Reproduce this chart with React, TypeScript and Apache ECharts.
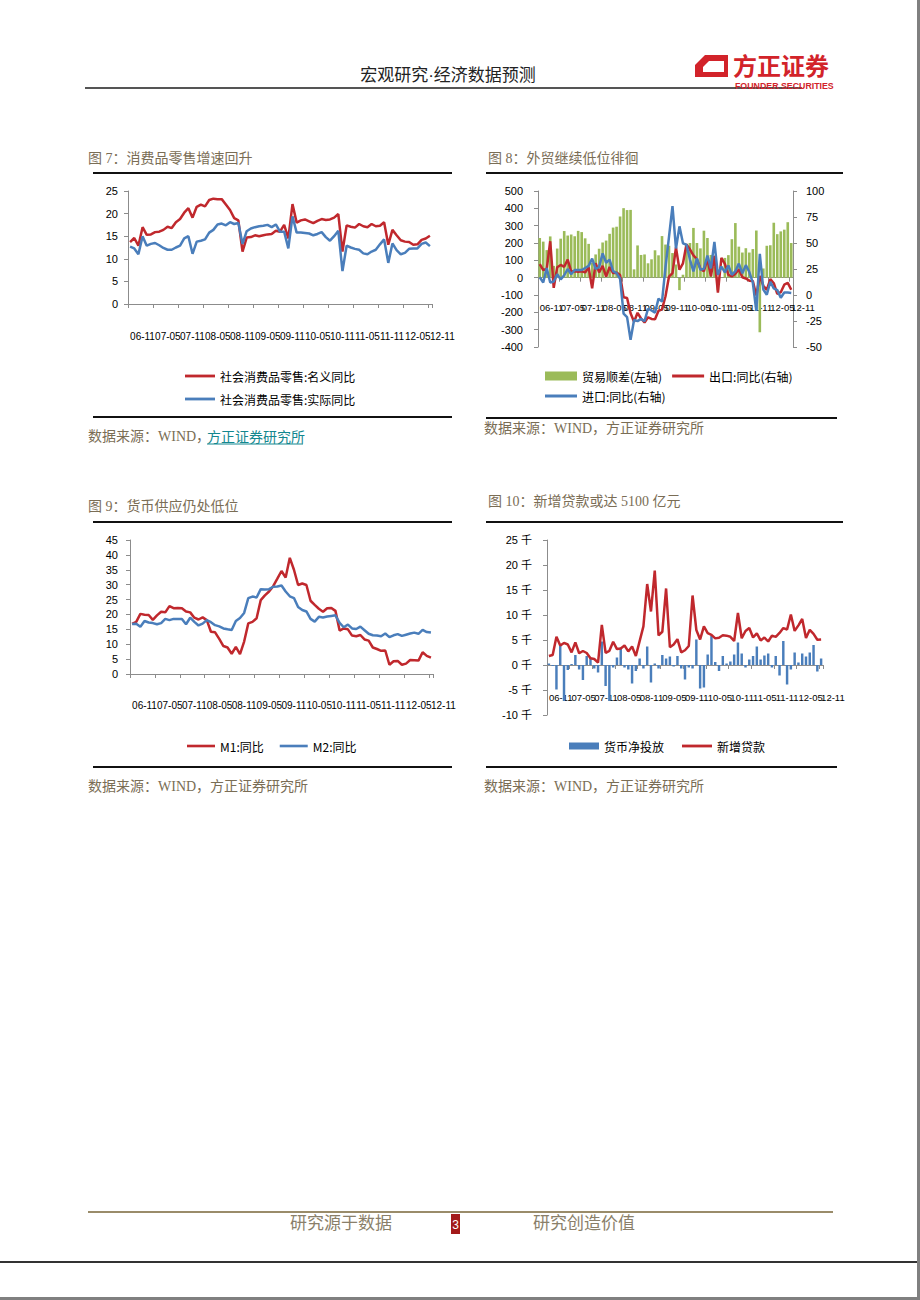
import React, { useEffect, useRef } from 'react';
import * as echarts from 'echarts';

// ---------- categories (monthly, 2006-11 .. 2012-11) ----------
const months = [
  '06-11', '06-12',
  '07-01', '07-02', '07-03', '07-04', '07-05', '07-06', '07-07', '07-08', '07-09', '07-10', '07-11', '07-12',
  '08-01', '08-02', '08-03', '08-04', '08-05', '08-06', '08-07', '08-08', '08-09', '08-10', '08-11', '08-12',
  '09-01', '09-02', '09-03', '09-04', '09-05', '09-06', '09-07', '09-08', '09-09', '09-10', '09-11', '09-12',
  '10-01', '10-02', '10-03', '10-04', '10-05', '10-06', '10-07', '10-08', '10-09', '10-10', '10-11', '10-12',
  '11-01', '11-02', '11-03', '11-04', '11-05', '11-06', '11-07', '11-08', '11-09', '11-10', '11-11', '11-12',
  '12-01', '12-02', '12-03', '12-04', '12-05', '12-06', '12-07', '12-08', '12-09', '12-10', '12-11',
];

// ---------- 图7 社会消费品零售 (%) ----------
const retailNominal = [
  13.7, 14.6, 12.9, 17.0, 15.3, 15.4, 15.9, 16.0, 16.4, 17.1,
  16.8, 18.1, 18.8, 20.2, 21.2, 19.1, 21.5, 22.0, 21.6, 23.0,
  23.3, 23.2, 23.2, 22.0, 20.8, 19.0, 18.5, 11.6, 14.7, 14.8,
  15.2, 15.0, 15.2, 15.4, 15.5, 16.2, 16.0, 17.5, 14.5, 22.1,
  18.0, 18.5, 18.7, 18.3, 17.9, 18.4, 18.8, 18.6, 18.7, 19.1,
  19.9, 11.6, 17.4, 17.1, 16.9, 17.7, 17.2, 17.0, 17.7, 17.2,
  17.3, 18.1, 13.1, 16.4, 15.2, 14.1, 13.8, 13.7, 13.1, 13.2,
  14.2, 14.5, 15.1,
];
const retailReal = [
  12.7, 12.3, 11.0, 15.0, 12.9, 13.3, 13.5, 13.0, 12.4, 12.0,
  12.0, 12.5, 12.9, 14.5, 15.0, 11.1, 13.8, 14.0, 14.3, 15.8,
  16.4, 17.6, 17.8, 17.4, 18.1, 17.7, 17.9, 13.3, 16.1, 16.7,
  17.0, 17.2, 17.3, 17.5, 17.0, 17.6, 16.0, 16.0, 12.3, 19.4,
  15.8, 15.8, 15.7, 15.6, 15.2, 15.5, 15.9, 14.8, 14.0, 15.0,
  16.2, 7.3, 12.9, 12.5, 12.2, 12.0, 11.2, 11.0, 11.6, 12.0,
  13.2, 14.3, 9.1, 13.4, 11.9, 11.0, 11.3, 12.2, 12.3, 12.3,
  13.3, 13.6, 12.8,
];

// ---------- 图8 外贸 ----------
const tradeBalance = [
  229, 208, 159, 238, 68, 168, 225, 269, 243, 249,
  239, 270, 263, 227, 195, 86, 134, 167, 203, 214,
  253, 289, 294, 353, 401, 390, 391, 48, 186, 131,
  134, 83, 106, 158, 129, 240, 191, 184, 142, 76,
  -72, 17, 195, 200, 287, 200, 169, 271, 229, 131,
  64, -73, 1, 114, 130, 222, 315, 179, 145, 170,
  145, 165, 272, -315, 53, 184, 187, 317, 251, 267,
  277, 320, 200,
];
const exportYoy = [
  29.6, 24.0, 25.0, 51.7, 6.9, 26.7, 28.9, 27.1, 34.1, 22.7,
  22.8, 22.3, 22.8, 21.7, 26.6, 6.5, 30.6, 21.8, 28.1, 17.6,
  26.9, 21.1, 21.5, 19.1, -2.2, -2.8, -17.5, -25.7, -17.1, -22.6,
  -26.4, -21.4, -23.0, -23.4, -15.2, -13.8, -1.2, 17.7, 21.0, 45.7,
  24.3, 30.5, 48.5, 43.9, 38.1, 34.4, 25.1, 22.9, 34.9, 17.9,
  37.7, 2.3, 35.8, 29.9, 19.4, 17.9, 20.4, 24.5, 17.1, 15.9,
  13.8, 13.4, -0.5, 18.4, 8.9, 4.9, 15.3, 11.3, 1.0, 2.7,
  9.9, 11.6, 5.0,
];
const importYoy = [
  17, 12, 26, 12, 13, 20, 15, 19, 25, 20,
  24, 24, 24, 26, 28, 35, 25, 27, 40, 31,
  34, 23, 21, 15.6, -17.9, -21.3, -43.1, -24.1, -25.1, -23.0,
  -25.2, -13.2, -14.9, -17.0, -3.5, -6.4, 26.7, 55.9, 85.5, 44.7,
  66.0, 49.7, 48.3, 34.1, 22.7, 35.2, 24.1, 25.3, 38.0, 25.6,
  51.0, 19.4, 27.3, 21.8, 28.4, 19.3, 22.9, 30.2, 20.9, 28.7,
  22.1, 11.8, -15.3, 39.6, 5.3, 0.3, 12.7, 6.3, 4.7, -2.6,
  2.4, 2.4, 2.0,
];

// ---------- 图9 货币供应 (%) ----------
const m1Yoy = [
  16.8, 17.5, 20.2, 19.9, 19.8, 18.2, 19.7, 20.9, 20.7, 22.8,
  22.1, 22.2, 22.1, 21.0, 20.7, 18.9, 18.3, 19.0, 18.1, 14.2,
  14.0, 11.8, 9.4, 8.9, 6.8, 9.1, 6.7, 10.9, 17.0, 17.5,
  18.7, 24.8, 26.4, 27.7, 29.5, 32.0, 34.6, 32.4, 39.0, 35.0,
  29.9, 30.4, 29.9, 24.6, 23.2, 21.9, 20.9, 22.1, 22.2, 21.2,
  14.6, 15.3, 15.0, 12.9, 12.7, 13.1, 11.6, 11.2, 8.9, 8.4,
  7.8, 7.9, 3.1, 4.3, 4.4, 3.1, 3.5, 4.7, 4.6, 4.5,
  7.3, 6.1, 5.5,
];
const m2Yoy = [
  16.8, 16.9, 15.9, 17.8, 17.3, 17.1, 16.7, 17.1, 18.5, 18.1,
  18.5, 18.5, 18.5, 16.7, 18.9, 17.5, 16.3, 16.9, 18.1, 17.4,
  16.4, 16.0, 15.3, 15.0, 14.8, 17.8, 18.8, 20.5, 25.5, 26.0,
  25.7, 28.5, 28.4, 28.5, 29.3, 29.4, 29.7, 27.7, 26.1, 25.5,
  22.5, 21.5, 21.0, 18.5, 17.6, 19.2, 19.0, 19.3, 19.5, 19.7,
  17.2, 15.7, 16.6, 15.3, 15.1, 15.9, 14.7, 13.5, 13.0, 12.9,
  12.7, 13.6, 12.4, 13.0, 13.4, 12.8, 13.2, 13.6, 13.9, 13.5,
  14.8, 14.1, 13.9,
];

// ---------- 图10 新增贷款 / 货币净投放 (亿元) ----------
const netInjection = [
  300, -200, -4900, 4000, -7200, -1000, 200, 2000, -900, -3000,
  1800, 1500, -700, -1500, 4700, -4200, -7200, -500, 1500, 3500,
  -500, -900, -3700, -1200, 1300, -700, 3700, -3500, 300, -700,
  2000, 1300, 1700, -300, 1800, -700, -2900, -500, -700, 5100,
  -4700, -4500, 2100, 5900, 600, -1200, 1800, 300, 700, 2100,
  4500, 2300, -500, 1100, 1800, 3700, 1100, 1900, 2300, -500,
  1800, -2100, 4800, -3900, -900, 2500, 500, 2300, 1700, 2500,
  4000, -1300, 1300,
];
const newLoans = [
  1800, 2000, 5670, 3882, 4418, 4102, 2525, 4515, 2355, 2799,
  2400, 1361, 1200, 485, 8037, 2443, 2834, 4645, 3185, 3320,
  3891, 2715, 3702, 1811, 4769, 7718, 16200, 10700, 18900, 5918,
  6645, 15304, 3559, 4104, 5167, 2530, 2948, 3798, 13900, 7001,
  5107, 7740, 6394, 6034, 5328, 5452, 5955, 5868, 5640, 4807,
  10400, 5356, 6794, 7396, 5516, 6339, 4922, 5485, 4700, 5868,
  5622, 6405, 7381, 7107, 10100, 6818, 7932, 9198, 5401, 7039,
  6232, 5053, 5100,
];

// ---------- styles ----------
const RED = '#c0282d';
const BLUE = '#4a7ebb';
const GREEN = '#9bbb59';
const AXIS = '#8c8c8c';
const OLIVE = '#7a6d55';
const CJK = "'Noto Sans CJK SC', sans-serif";
const MIX = "'Liberation Serif', 'Noto Sans CJK SC', serif";
const NUM = "'Liberation Sans', Arial, sans-serif";
const LINE_ICON = 'path://M0,0L32,0L32,3L0,3Z';

// Each chart gets two category axes on the same grid: the main one (line, ticks,
// labels 06-11, 07-11, ...) and a label-only twin (labels 07-05, 08-05, ...), so the
// tightly packed labels are all kept.
function catAxes(gridIndex: number, margin: number, offset: number, fontSize: number) {
  const label = {
    margin,
    align: 'left',
    fontSize,
    fontFamily: NUM,
    color: '#000',
    hideOverlap: false,
  };
  return [
    {
      type: 'category',
      gridIndex,
      data: months,
      boundaryGap: true,
      position: 'bottom',
      offset,
      axisLine: { show: true, onZero: false, lineStyle: { color: AXIS, width: 1 } },
      axisTick: { show: true, interval: 5, length: 4, lineStyle: { color: AXIS } },
      axisLabel: {
        ...label,
        interval: (i: number) => i % 12 === 0,
        showMinLabel: true,
        showMaxLabel: true,
      },
      splitLine: { show: false },
    },
    {
      type: 'category',
      gridIndex,
      data: months,
      boundaryGap: true,
      position: 'bottom',
      offset,
      axisLine: { show: false, onZero: false },
      axisTick: { show: false },
      axisLabel: {
        ...label,
        interval: (i: number) => i % 12 === 6,
        formatter: (v: string, i: number) => (i % 12 === 6 ? v : ''),
      },
      splitLine: { show: false },
    },
  ];
}

function valAxis(gridIndex: number, min: number, max: number, interval: number, margin: number, extra: any = {}) {
  return {
    type: 'value',
    gridIndex,
    min,
    max,
    interval,
    position: extra.position || 'left',
    axisLine: { show: true, lineStyle: { color: AXIS, width: 1 } },
    axisTick: { show: true, length: 4, lineStyle: { color: AXIS } },
    axisLabel: {
      margin,
      fontSize: 11,
      fontFamily: NUM,
      color: '#000',
      showMinLabel: true,
      showMaxLabel: true,
      ...(extra.axisLabel || {}),
    },
    splitLine: { show: false },
  };
}

function lineSeries(name: string, data: number[], color: string, xAxisIndex: number, yAxisIndex: number) {
  return {
    type: 'line',
    name,
    data,
    xAxisIndex,
    yAxisIndex,
    symbol: 'none',
    showSymbol: false,
    lineStyle: { color, width: 2.5 },
    itemStyle: { color },
    z: 3,
  };
}

function txt(text: string, x: number, y: number, size: number, fill: string, family: string, align = 'left', weight = 'normal') {
  return {
    type: 'text',
    silent: true,
    z: 100,
    style: {
      text,
      x,
      y,
      fill,
      fontSize: size,
      fontFamily: family,
      fontWeight: weight,
      textAlign: align,
      textVerticalAlign: 'middle',
    },
  };
}

function hline(x1: number, x2: number, y: number, stroke: string, w: number) {
  return {
    type: 'line',
    silent: true,
    z: 100,
    shape: { x1, y1: y, x2, y2: y },
    style: { stroke, lineWidth: w },
  };
}

const legendText = { fontSize: 12, fontFamily: CJK, color: '#000', lineHeight: 14 };
const legendBase = { padding: 0, selectedMode: false, textStyle: legendText, symbolKeepAspect: true };

const graphics: any[] = [
  // header
  txt('宏观研究·经济数据预测', 448, 75, 17, '#222', "'Liberation Sans', 'Noto Sans CJK SC', sans-serif", 'center'),
  hline(85, 802, 88, '#555', 2),
  {
    type: 'polygon', silent: true, z: 100,
    shape: { points: [[705, 55], [728, 55], [728, 77], [695, 77], [695, 65]] },
    style: { fill: '#d2232a' },
  },
  {
    type: 'polygon', silent: true, z: 101,
    shape: { points: [[709, 61], [724, 61], [724, 72], [703, 72], [703, 67]] },
    style: { fill: '#fff' },
  },
  txt('方正证券', 733, 64.5, 24, '#d2232a', CJK, 'left', 'bold'),
  txt('FOUNDER SECURITIES', 735, 85.5, 8.8, '#d2232a', NUM, 'left', 'bold'),

  // chart 7 frame
  txt('图 7：消费品零售增速回升', 88, 158, 14, OLIVE, MIX),
  hline(93, 452, 173, '#111', 2),
  hline(93, 452, 417, '#111', 2),
  txt('数据来源：WIND，', 88, 436, 14, OLIVE, MIX),
  txt('方正证券研究所', 207, 436, 14, '#13878f', CJK),
  hline(207, 303, 444, '#13878f', 1),

  // chart 8 frame
  txt('图 8：外贸继续低位徘徊', 488, 158, 14, OLIVE, MIX),
  hline(486, 843, 173, '#111', 2),
  hline(486, 837, 418, '#111', 2),
  txt('数据来源：WIND，方正证券研究所', 484, 428, 14, OLIVE, MIX),

  // chart 9 frame
  txt('图 9：货币供应仍处低位', 88, 506, 14, OLIVE, MIX),
  hline(93, 452, 522, '#111', 2),
  hline(93, 452, 767, '#111', 2),
  txt('数据来源：WIND，方正证券研究所', 88, 786, 14, OLIVE, MIX),

  // chart 10 frame
  txt('图 10：新增贷款或达 5100 亿元', 488, 501, 14, OLIVE, MIX),
  hline(486, 843, 522, '#111', 2),
  hline(486, 837, 767, '#111', 2),
  txt('数据来源：WIND，方正证券研究所', 484, 786, 14, OLIVE, MIX),

  // footer
  hline(88, 833, 1212, '#9a8c6a', 2),
  txt('研究源于数据', 341, 1221, 17, '#8a7f6a', CJK, 'center'),
  txt('研究创造价值', 584, 1221, 17, '#8a7f6a', CJK, 'center'),
  {
    type: 'rect', silent: true, z: 100,
    shape: { x: 451, y: 1214, width: 9, height: 20 },
    style: { fill: '#a31a1a' },
  },
  txt('3', 455.5, 1225, 12, '#fff', NUM, 'center'),

  // page frame
  hline(0, 917, 1262, '#333', 2),
  {
    type: 'rect', silent: true, z: 100,
    shape: { x: 917, y: 0, width: 3, height: 1300 },
    style: { fill: '#808080' },
  },
  {
    type: 'rect', silent: true, z: 100,
    shape: { x: 0, y: 1297, width: 920, height: 3 },
    style: { fill: '#808080' },
  },
];

const option: any = {
  animation: false,
  backgroundColor: '#fff',
  textStyle: { fontFamily: NUM },
  grid: [
    { left: 128, top: 191, width: 304, height: 113 },
    { left: 538, top: 191, width: 255, height: 156 },
    { left: 130, top: 540, width: 303, height: 134 },
    { left: 547, top: 540, width: 276, height: 175 },
  ],
  xAxis: [
    ...catAxes(0, 27, 0, 10), // 0, 1
    // zero of the left axis lies 69 px above the grid bottom
    ...catAxes(1, 25, -69.3, 9.5), // 2, 3
    ...catAxes(2, 26, 0, 10), // 4, 5
    // zero of the value axis lies 50 px above the grid bottom
    ...catAxes(3, 27, -50, 9.5), // 6, 7
  ],
  yAxis: [
    valAxis(0, 0, 25, 5, 10),
    valAxis(1, -400, 500, 100, 15),
    valAxis(1, -50, 100, 25, 13, { position: 'right' }),
    valAxis(2, 0, 45, 5, 12),
    valAxis(3, -10000, 25000, 5000, 15, {
      axisLabel: {
        formatter: (v: number) => `${v / 1000} 千`,
        fontFamily: "'Liberation Sans', 'Noto Sans CJK SC', sans-serif",
        padding: [0, 0, 12, 0],
      },
    }),
  ],
  legend: [
    {
      ...legendBase,
      orient: 'vertical', left: 185, top: 369, itemWidth: 30, itemHeight: 14, itemGap: 9,
      data: [
        { name: '社会消费品零售:名义同比', icon: LINE_ICON },
        { name: '社会消费品零售:实际同比', icon: LINE_ICON },
      ],
    },
    {
      ...legendBase,
      orient: 'horizontal', left: 545, top: 369, itemWidth: 32, itemHeight: 9, itemGap: 10,
      data: [{ name: '贸易顺差(左轴)', icon: 'rect' }, { name: '出口:同比(右轴)', icon: LINE_ICON }],
    },
    {
      ...legendBase,
      orient: 'horizontal', left: 545, top: 389, itemWidth: 32, itemHeight: 9, itemGap: 10,
      data: [{ name: '进口:同比(右轴)', icon: LINE_ICON }],
    },
    {
      ...legendBase,
      orient: 'horizontal', left: 187, top: 739, itemWidth: 28, itemHeight: 14, itemGap: 16,
      data: [
        { name: 'M1:同比', icon: LINE_ICON },
        { name: 'M2:同比', icon: LINE_ICON },
      ],
    },
    {
      ...legendBase,
      orient: 'horizontal', left: 569, top: 739, itemWidth: 30, itemHeight: 7, itemGap: 18,
      data: [{ name: '货币净投放', icon: 'rect' }, { name: '新增贷款', icon: LINE_ICON }],
    },
  ],
  series: [
    lineSeries('社会消费品零售:名义同比', retailNominal, RED, 0, 0),
    lineSeries('社会消费品零售:实际同比', retailReal, BLUE, 0, 0),

    {
      type: 'bar', name: '贸易顺差(左轴)', data: tradeBalance, xAxisIndex: 2, yAxisIndex: 1,
      itemStyle: { color: GREEN }, barCategoryGap: '25%', z: 2,
    },
    lineSeries('出口:同比(右轴)', exportYoy, RED, 2, 2),
    lineSeries('进口:同比(右轴)', importYoy, BLUE, 2, 2),

    lineSeries('M1:同比', m1Yoy, RED, 4, 3),
    lineSeries('M2:同比', m2Yoy, BLUE, 4, 3),

    {
      type: 'bar', name: '货币净投放', data: netInjection, xAxisIndex: 6, yAxisIndex: 4,
      itemStyle: { color: BLUE }, barCategoryGap: '35%', z: 2,
    },
    lineSeries('新增贷款', newLoans, RED, 6, 4),
  ],
  graphic: graphics,
};

export default function App() {
  const ref = useRef<HTMLDivElement>(null);
  useEffect(() => {
    if (!ref.current) return;
    const chart = echarts.init(ref.current, undefined, { renderer: 'svg' });
    chart.setOption(option);
    return () => {
      chart.dispose();
    };
  }, []);
  return (
    <div
      ref={ref}
      style={{ position: 'absolute', left: 0, top: 0, width: 920, height: 1300, background: '#fff' }}
    />
  );
}
